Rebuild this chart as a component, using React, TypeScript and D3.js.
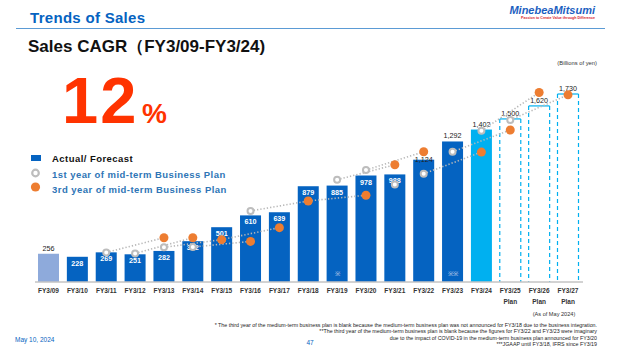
import React from 'react';
import * as d3 from 'd3';

// fiscal years on the axis
const years = [
  'FY3/09', 'FY3/10', 'FY3/11', 'FY3/12', 'FY3/13', 'FY3/14', 'FY3/15', 'FY3/16', 'FY3/17', 'FY3/18',
  'FY3/19', 'FY3/20', 'FY3/21', 'FY3/22', 'FY3/23', 'FY3/24', 'FY3/25', 'FY3/26', 'FY3/27',
];

// sales, billions of yen (actual / forecast / plan)
const sales = [256, 228, 269, 251, 282, 372, 501, 610, 639, 879, 885, 978, 988, 1124, 1292, 1402, 1500, 1620, 1730];

// 1st year of mid-term business plan (grey rings)
const firstYearPlan: (number | null)[] = [
  null, null, 268, 259, 315, 318, 386, 651, null, 743, 939, 1028, 895, 994, 1197, 1392, 1491, null, null,
];

// 3rd year of mid-term business plan (orange dots)
const thirdYearPlan: (number | null)[] = [
  null, null, null, null, 404, 404, 386, 370, 497, 743, null, 796, 1077, 1197, null, 1194, 1398, 1744, 1722,
];

const planYears = ['FY3/25', 'FY3/26', 'FY3/27'];
const notes: Record<string, string> = { 'FY3/19': '※', 'FY3/23': '※※' };

const footnotes = [
  '* The third year of the medium-term business plan is blank because the medium-term business plan was not announced for FY3/18 due to the business integration.',
  '**The third year of the medium-term business plan is blank because the figures for FY3/22 and FY3/23 were imaginary',
  'due to the impact of COVID-19 in the medium-term business plan announced for FY3/20',
  '***JGAAP until FY3/18, IFRS since FY3/19',
];

const FONT = '"Liberation Sans", Arial, sans-serif';
const DARK_BLUE = '#0563c1';
const CYAN = '#00b0f0';
const ORANGE = '#ed7d31';
const RING = '#bdbdbd';

const App: React.FC = () => {
  const width = 622;
  const height = 350;
  const baseY = 281.5;
  const barW = 21;

  const x = d3.scalePoint<string>().domain(years).range([48.5, 568]);
  const y = d3.scaleLinear().domain([0, 1730]).range([baseY, 94]);
  const fmt = d3.format(',');

  // plan lines: 1st year of a plan -> 3rd year of the same plan
  const segments: { x1: number; y1: number; x2: number; y2: number }[] = [];
  firstYearPlan.forEach((v, i) => {
    const end = thirdYearPlan[i + 2];
    if (v != null && end != null) {
      segments.push({ x1: x(years[i])!, y1: y(v), x2: x(years[i + 2])!, y2: y(end) });
    }
  });

  const barFill = (i: number) => {
    if (i === 0) return '#8eaadb';
    if (years[i] === 'FY3/24') return CYAN;
    return DARK_BLUE;
  };

  return (
    <svg width={width} height={height} style={{ position: 'absolute', left: 0, top: 0, background: '#fff' }}
      fontFamily={FONT}>
      {/* header */}
      <text x={30} y={23} fontSize={15} letterSpacing={0.3} fontWeight="bold" fill={DARK_BLUE}>Trends of Sales</text>
      <line x1={16} x2={605} y1={28.5} y2={28.5} stroke="#5b9bd5" strokeWidth={1.2} />
      <text x={595} y={14} textAnchor="end" fontSize={11} fontWeight="bold" fontStyle="italic" fill="#1d5fbf">
        MinebeaMitsumi
      </text>
      <text x={595} y={19} textAnchor="end" fontSize={3.6} fontWeight="bold" fill="#d81e2b">
        Passion to Create Value through Difference
      </text>
      <text x={28} y={52} fontSize={17} fontWeight="bold" fill="#111">
        Sales CAGR（FY3/09-FY3/24)
      </text>
      <text x={597} y={65} textAnchor="end" fontSize={5.8} fill="#333">(Billions of yen)</text>

      {/* CAGR */}
      <text x={62} y={123} fontSize={65} letterSpacing={2} fontWeight="bold" fill="#ff3300">12</text>
      <text x={142} y={123} fontSize={28} fontWeight="bold" fill="#ff3300">%</text>

      {/* legend */}
      <rect x={31} y={155} width={10} height={6} fill={DARK_BLUE} />
      <text x={52} y={161.5} fontSize={9.5} letterSpacing={0.45} fontWeight="bold" fill="#111">Actual/ Forecast</text>
      <circle cx={35.5} cy={173} r={3.3} fill="#fff" stroke={RING} strokeWidth={2.2} />
      <text x={52} y={177.5} fontSize={9.5} letterSpacing={0.45} fontWeight="bold" fill="#2e75b6">
        1st year of mid-term Business Plan
      </text>
      <circle cx={35.5} cy={187} r={4.6} fill={ORANGE} />
      <text x={52} y={193} fontSize={9.5} letterSpacing={0.45} fontWeight="bold" fill="#2e75b6">
        3rd year of mid-term Business Plan
      </text>

      {/* bars */}
      {sales.map((v, i) => {
        const cx = x(years[i])!;
        const top = y(v);
        if (planYears.includes(years[i])) {
          return (
            <g key={years[i]}>
              <line x1={cx - barW / 2} x2={cx + barW / 2} y1={top} y2={top} stroke={CYAN} strokeWidth={1.2} />
              <line x1={cx - barW / 2} x2={cx - barW / 2} y1={top} y2={baseY} stroke={CYAN} strokeWidth={1.2}
                strokeDasharray="4 3" />
              <line x1={cx + barW / 2} x2={cx + barW / 2} y1={top} y2={baseY} stroke={CYAN} strokeWidth={1.2}
                strokeDasharray="4 3" />
            </g>
          );
        }
        return <rect key={years[i]} x={cx - barW / 2} y={top} width={barW} height={baseY - top} fill={barFill(i)} />;
      })}

      {/* value labels */}
      {sales.map((v, i) => {
        const cx = x(years[i])!;
        const top = y(v);
        const outside = i === 0 || i >= 14;
        const straddle = years[i] === 'FY3/22';
        const ly = outside ? top - 3 : straddle ? top + 2 : top + 9;
        return (
          <text key={'l' + years[i]} x={cx} y={ly} textAnchor="middle" fontSize={7.2}
            fontWeight={outside || straddle ? 'normal' : 'bold'}
            fill={outside || straddle ? '#222' : '#fff'}>
            {fmt(v)}
          </text>
        );
      })}

      {Object.entries(notes).map(([yr, mark]) => (
        <text key={'n' + yr} x={x(yr)!} y={276} textAnchor="middle" fontSize={6.5} fill="#d9dff0">{mark}</text>
      ))}

      {/* dotted plan lines */}
      {segments.map((s, i) => (
        <line key={'s' + i} {...s} stroke="#b8b8b8" strokeWidth={1.6} strokeDasharray="1.3 2" />
      ))}

      {firstYearPlan.map((v, i) =>
        v == null ? null : (
          <circle key={'r' + i} cx={x(years[i])!} cy={y(v)} r={3} fill="#fff" stroke={RING} strokeWidth={2} />
        ),
      )}
      {thirdYearPlan.map((v, i) =>
        v == null ? null : <circle key={'o' + i} cx={x(years[i])!} cy={y(v)} r={4.5} fill={ORANGE} />,
      )}

      {/* axis */}
      <line x1={35} x2={583} y1={baseY + 0.5} y2={baseY + 0.5} stroke="#a6a6a6" strokeWidth={1} />
      {years.map(yr => (
        <text key={'t' + yr} x={x(yr)!} y={293} textAnchor="middle" fontSize={6.5} fontWeight="bold" fill="#333">
          {yr}
        </text>
      ))}
      {planYears.map(yr => (
        <text key={'p' + yr} x={x(yr)!} y={304} textAnchor="middle" fontSize={6.5} fontWeight="bold" fill="#333">
          Plan
        </text>
      ))}
      <text x={554} y={316} textAnchor="middle" fontSize={5.6} fill="#333">(As of May 2024)</text>

      {/* footer */}
      {footnotes.map((t, i) => (
        <text key={'f' + i} x={597} y={327 + i * 6.3} textAnchor="end" fontSize={5.3} fill="#222">{t}</text>
      ))}
      <text x={15} y={342} fontSize={6.5} fill={DARK_BLUE}>May 10, 2024</text>
      <text x={310} y={345} textAnchor="middle" fontSize={6.5} fill={DARK_BLUE}>47</text>
    </svg>
  );
};

export default App;
